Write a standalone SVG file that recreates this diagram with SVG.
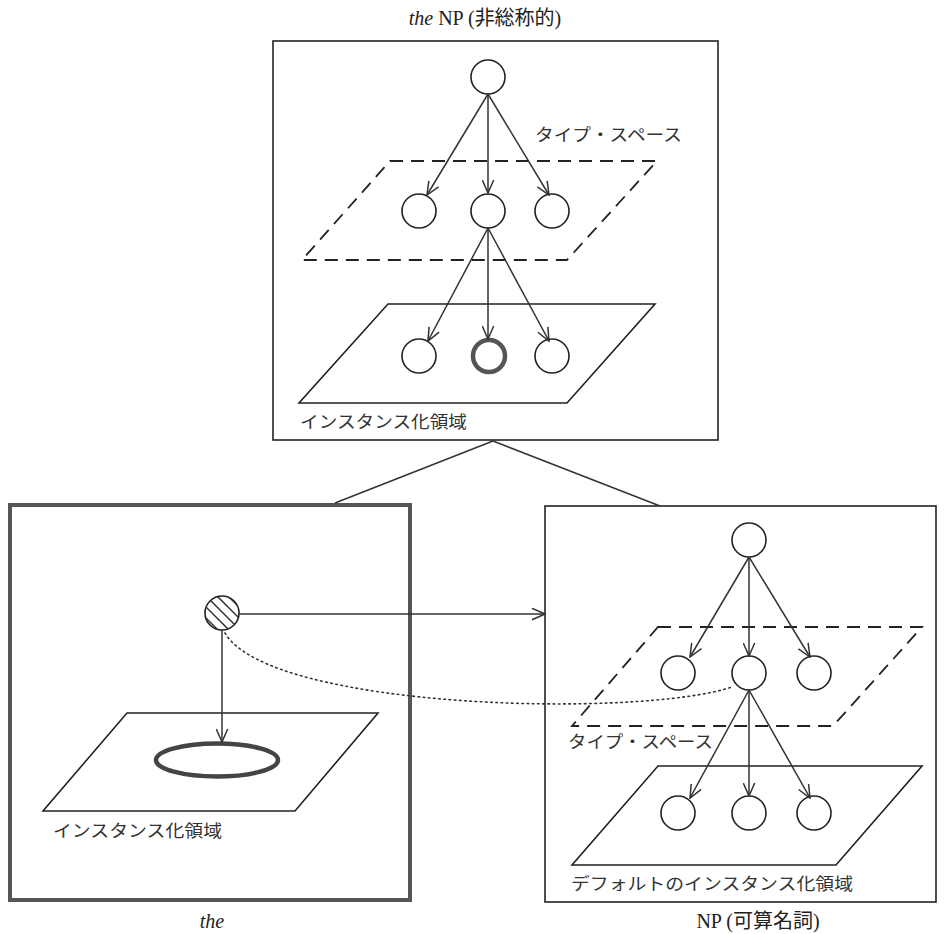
<svg xmlns="http://www.w3.org/2000/svg" width="945" height="934" viewBox="0 0 945 934">
  <style>
    .box { fill: none; stroke: #222; stroke-width: 1.6; }
    .boxbold { fill: none; stroke: #555; stroke-width: 4; }
    .plane { fill: none; stroke: #222; stroke-width: 1.6; }
    .dashed { fill: none; stroke: #222; stroke-width: 1.8; stroke-dasharray: 13 8; }
    .node { fill: #fff; stroke: #222; stroke-width: 1.6; }
    .ring { fill: none; stroke: #222; stroke-width: 1.6; }
    .nodebold { fill: #fff; stroke: #555; stroke-width: 4.5; }
    .edge { fill: none; stroke: #333; stroke-width: 1.5; }
    .arrow { fill: none; stroke: #333; stroke-width: 1.5; marker-end: url(#open); }
    .dotted { fill: none; stroke: #333; stroke-width: 1.6; stroke-dasharray: 1.6 3.6; stroke-linecap: round; }
    .label { font-family: "Noto Sans CJK JP", "Noto Sans", sans-serif; font-size: 17px; fill: #333; }
    .title { font-family: "Liberation Serif", "Noto Sans CJK JP", serif; font-size: 20px; fill: #222; }
    .it { font-style: italic; }
    .hatch { stroke: #333; stroke-width: 1.5; }
  </style>
  <defs>
    <marker id="open" viewBox="0 0 15 13" refX="14" refY="6.5" markerWidth="15" markerHeight="13" markerUnits="userSpaceOnUse" orient="auto">
      <path d="M1,0.8 L14,6.5 L1,12.2" fill="none" stroke="#333" stroke-width="1.5"/>
    </marker>
    <clipPath id="hatchClip">
      <circle cx="222" cy="613" r="16.5"/>
    </clipPath>
  </defs>
  <rect width="945" height="934" fill="#fff"/>

  <!-- top panel: the NP (non-generic) -->
  <g id="panel-top">
    <rect class="box" x="273" y="41" width="445" height="399"/>
    <text class="title" x="485" y="25" text-anchor="middle"><tspan class="it">the</tspan> NP (非総称的)</text>
    <polygon class="dashed" points="390,161 657,161 567,260 302,260"/>
    <text class="label" x="535" y="141" textLength="147" lengthAdjust="spacingAndGlyphs">タイプ・スペース</text>
    <polygon class="plane" points="388,304 655,304 567,403 299,403"/>
    <text class="label" x="300" y="428" textLength="167" lengthAdjust="spacingAndGlyphs">インスタンス化領域</text>
  </g>
  <g id="top-root"><circle class="node" cx="488" cy="77" r="17"/></g>
  <g id="top-type-1"><circle class="node" cx="419" cy="211" r="17"/></g>
  <g id="top-type-2"><circle class="node" cx="488" cy="211" r="17"/></g>
  <g id="top-type-3"><circle class="node" cx="552" cy="211" r="17"/></g>
  <g id="top-inst-1"><circle class="node" cx="419" cy="356" r="17"/></g>
  <g id="top-inst-2"><circle class="nodebold" cx="489" cy="356" r="16"/></g>
  <g id="top-inst-3"><circle class="node" cx="552" cy="356" r="17"/></g>

  <!-- left panel: the -->
  <g id="panel-left">
    <rect class="boxbold" x="10" y="505" width="400" height="395"/>
    <polygon class="plane" points="127,713 378,713 295,811 43,811"/>
    <text class="label" x="53" y="837" textLength="169" lengthAdjust="spacingAndGlyphs">インスタンス化領域</text>
    <text class="title it" x="212" y="928" text-anchor="middle">the</text>
  </g>
  <g id="left-referent">
    <circle cx="222" cy="613" r="17" fill="#fff"/>
    <g clip-path="url(#hatchClip)">
      <line class="hatch" x1="174" y1="597" x2="214" y2="637"/>
      <line class="hatch" x1="180" y1="592" x2="222" y2="634"/>
      <line class="hatch" x1="186" y1="587" x2="230" y2="631"/>
      <line class="hatch" x1="192" y1="582" x2="238" y2="628"/>
      <line class="hatch" x1="198" y1="577" x2="246" y2="625"/>
      <line class="hatch" x1="204" y1="572" x2="252" y2="620"/>
      <line class="hatch" x1="210" y1="567" x2="258" y2="615"/>
    </g>
    <circle class="ring" cx="222" cy="613" r="17"/>
  </g>
  <g id="left-instance"><ellipse cx="217" cy="760" rx="61" ry="16.5" fill="none" stroke="#444" stroke-width="4.5"/></g>

  <!-- right panel: NP (countable noun) -->
  <g id="panel-right">
    <rect class="box" x="545" y="506" width="391" height="396"/>
    <polygon class="dashed" points="658,627 922,627 833,726 572,726"/>
    <text class="label" x="568" y="748" textLength="145" lengthAdjust="spacingAndGlyphs">タイプ・スペース</text>
    <polygon class="plane" points="658,766 922,766 836,865 572,865"/>
    <text class="label" x="571" y="890" textLength="282" lengthAdjust="spacingAndGlyphs">デフォルトのインスタンス化領域</text>
    <text class="title" x="758" y="928" text-anchor="middle">NP (可算名詞)</text>
  </g>
  <g id="right-root"><circle class="node" cx="749" cy="540" r="17"/></g>
  <g id="right-type-1"><circle class="node" cx="678" cy="673" r="17"/></g>
  <g id="right-type-2"><circle class="node" cx="749" cy="673" r="17"/></g>
  <g id="right-type-3"><circle class="node" cx="814" cy="673" r="17"/></g>
  <g id="right-inst-1"><circle class="node" cx="678" cy="813" r="17"/></g>
  <g id="right-inst-2"><circle class="node" cx="749" cy="813" r="17"/></g>
  <g id="right-inst-3"><circle class="node" cx="814" cy="813" r="17"/></g>

  <!-- connectors -->
  <g id="connectors">
    <!-- tree branches from the top panel to the two lower panels -->
    <line class="edge" x1="493" y1="441" x2="335" y2="503"/>
    <line class="edge" x1="493" y1="441" x2="660" y2="506"/>

    <!-- top panel -->
    <line class="arrow" x1="488" y1="94" x2="427" y2="195"/>
    <line class="arrow" x1="488" y1="94" x2="488" y2="193"/>
    <line class="arrow" x1="488" y1="94" x2="549" y2="195"/>
    <line class="arrow" x1="488" y1="228" x2="428" y2="341"/>
    <line class="arrow" x1="488" y1="228" x2="488" y2="339"/>
    <line class="arrow" x1="488" y1="228" x2="549" y2="341"/>

    <!-- right panel -->
    <line class="arrow" x1="749" y1="557" x2="690" y2="657"/>
    <line class="arrow" x1="749" y1="557" x2="749" y2="656"/>
    <line class="arrow" x1="749" y1="557" x2="810" y2="657"/>
    <line class="arrow" x1="749" y1="690" x2="690" y2="798"/>
    <line class="arrow" x1="749" y1="690" x2="749" y2="796"/>
    <line class="arrow" x1="749" y1="690" x2="810" y2="798"/>

    <!-- left panel -->
    <line class="arrow" x1="239" y1="614" x2="545" y2="614"/>
    <line class="arrow" x1="222" y1="630" x2="222" y2="742"/>
    <path class="dotted" d="M225,633 C270,710 640,718 732,687"/>
  </g>
</svg>
